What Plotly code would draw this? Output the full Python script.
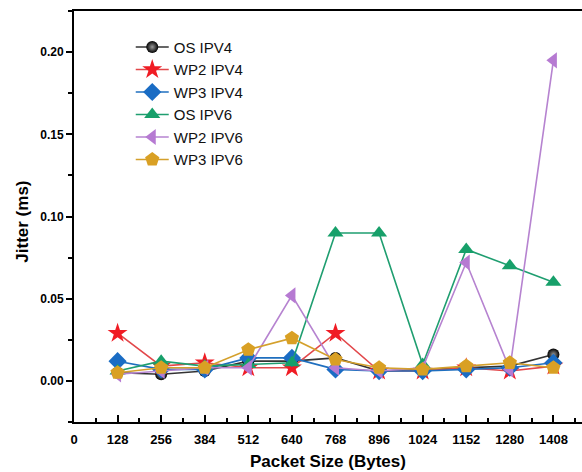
import plotly.graph_objects as go

packet_sizes = [128, 256, 384, 512, 640, 768, 896, 1024, 1152, 1280, 1408]
os_ipv4 = [0.005, 0.004, 0.006, 0.012, 0.012, 0.014, 0.006, 0.007, 0.008, 0.009, 0.016]
wp2_ipv4 = [0.029, 0.009, 0.011, 0.008, 0.008, 0.029, 0.006, 0.006, 0.008, 0.006, 0.009]
wp3_ipv4 = [0.012, 0.007, 0.007, 0.014, 0.014, 0.007, 0.006, 0.006, 0.007, 0.008, 0.011]
os_ipv6 = [0.006, 0.012, 0.009, 0.010, 0.011, 0.090, 0.090, 0.010, 0.080, 0.070, 0.060]
wp2_ipv6 = [0.004, 0.006, 0.008, 0.008, 0.052, 0.008, 0.006, 0.008, 0.072, 0.007, 0.195]
wp3_ipv6 = [0.005, 0.008, 0.008, 0.019, 0.026, 0.013, 0.008, 0.007, 0.009, 0.011, 0.008]

x_ticks = [0, 128, 256, 384, 512, 640, 768, 896, 1024, 1152, 1280, 1408]
y_ticks = [0.0, 0.05, 0.10, 0.15, 0.20]

series = [
    ("OS IPV4", os_ipv4, "#333333", "#000000", "circle", 12),
    ("WP2 IPV4", wp2_ipv4, "#e2474a", "#f01c24", "star", 15),
    ("WP3 IPV4", wp3_ipv4, "#1f6fbf", "#1a6cc4", "diamond", 14),
    ("OS IPV6", os_ipv6, "#1f9e70", "#17a06a", "triangle-up", 14),
    ("WP2 IPV6", wp2_ipv6, "#b683d0", "#b67ad2", "triangle-left", 14),
    ("WP3 IPV6", wp3_ipv6, "#d4a02c", "#d9a024", "pentagon", 15),
]

fig = go.Figure()
for name, vals, lc, mc, sym, sz in series:
    marker = dict(symbol=sym, size=sz, color=mc, line=dict(width=0))
    if sym == "circle":
        marker["gradient"] = dict(type="radial", color="#9a9a9a")
    fig.add_trace(go.Scatter(
        x=packet_sizes, y=vals, name=name, mode="lines+markers",
        line=dict(color=lc, width=1.6), marker=marker,
    ))

fig.update_layout(
    width=582, height=472,
    margin=dict(l=74, r=0, t=11, b=50),
    plot_bgcolor="white", paper_bgcolor="white",
    font=dict(family="Liberation Sans, Arial, sans-serif", color="black"),
    showlegend=True,
    legend=dict(
        x=0.1117, y=0.952, xanchor="left", yanchor="top",
        bgcolor="rgba(0,0,0,0)", font=dict(size=15, color="#111"),
        tracegroupgap=0, itemwidth=33,
    ),
    xaxis=dict(
        range=[0, 1492], tickvals=x_ticks, ticktext=[str(v) for v in x_ticks],
        showgrid=False, zeroline=False, showline=True, linecolor="black", linewidth=2,
        mirror=True, ticks="inside", ticklen=7, tickwidth=1.5, tickcolor="black",
        tickfont=dict(size=13, weight="bold"), ticklabelstandoff=4,
        minor=dict(dtick=64, tick0=0, ticks="inside", ticklen=4, tickwidth=1.5, tickcolor="black"),
    ),
    yaxis=dict(
        range=[-0.025, 0.225], tickvals=y_ticks, tickformat=".2f",
        showgrid=False, zeroline=False, showline=True, linecolor="black", linewidth=2,
        ticks="outside", ticklen=6, tickwidth=1.5, tickcolor="black",
        tickfont=dict(size=12, weight="bold"),
        minor=dict(dtick=0.025, tick0=0, ticks="outside", ticklen=4, tickwidth=1.5, tickcolor="black"),
    ),
    annotations=[
        dict(text="Packet Size (Bytes)", xref="paper", yref="paper", x=0.5, y=-0.0973,
             xanchor="center", yanchor="middle", showarrow=False,
             font=dict(size=17, weight="bold")),
        dict(text="Jitter (ms)", xref="paper", yref="paper", x=-0.103, y=0.4866,
             xanchor="center", yanchor="middle", showarrow=False, textangle=-90,
             font=dict(size=17, weight="bold")),
    ],
)

fig.write_html("out.html")
